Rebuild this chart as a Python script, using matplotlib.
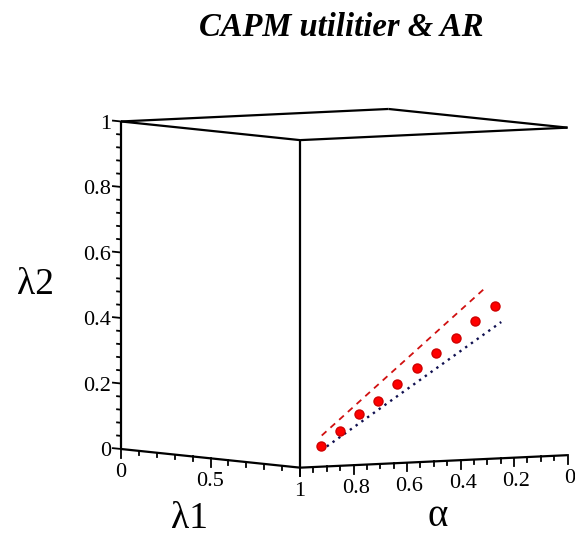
import numpy as np
import matplotlib
matplotlib.use("Agg")
import matplotlib.pyplot as plt
from mpl_toolkits.mplot3d import proj3d

# Estimated (alpha, lambda2) pairs, all lying on the lambda1 = 1 face
alpha = [0.921, 0.850, 0.778, 0.709, 0.638, 0.563, 0.491, 0.416, 0.345, 0.273]
lam2 = [0.062, 0.107, 0.155, 0.193, 0.241, 0.287, 0.330, 0.374, 0.422, 0.465]
lam1 = [1.0] * len(alpha)

# Upper (dashed) and lower (dotted) bands
upper_alpha = [0.919, 0.307]
upper_lam2 = [0.095, 0.523]
lower_alpha = [0.900, 0.248]
lower_lam2 = [0.061, 0.416]
band_lam1 = [1.0, 1.0]

# Axis ticks
lam2_major = [0, 0.2, 0.4, 0.6, 0.8, 1]
lam2_labels = ["0", "0.2", "0.4", "0.6", "0.8", "1"]
lam1_major = [0, 0.5, 1]
lam1_labels = ["0", "0.5", "1"]
alpha_major = [1, 0.8, 0.6, 0.4, 0.2, 0]
alpha_labels = ["1", "0.8", "0.6", "0.4", "0.2", "0"]

W, H = 575, 536
SERIF = ["Liberation Serif", "DejaVu Serif"]

fig = plt.figure(figsize=(W / 100, H / 100), dpi=100)
ax = fig.add_axes([0, 0, 1, 1], projection="3d", proj_type="ortho")
ax.set_box_aspect((1, 1, 1.02))
ax.view_init(elev=4, azim=56.2)
ax.set_xlim(0, 1)
ax.set_ylim(0, 1)
ax.set_zlim(0, 1)
ax.set_axis_off()


def to_pixels(x, y, z):
    """Display pixel position of a 3D point (x = alpha, y = lambda1, z = lambda2)."""
    xs, ys, _ = proj3d.proj_transform(x, y, z, ax.get_proj())
    return ax.transData.transform((xs, ys))


def fit_axes():
    """Scale/shift the 3D axes so the box corners land where wanted."""
    fig.canvas.draw()
    inv = ax.transAxes.inverted()
    q1 = inv.transform(to_pixels(1, 0, 0))   # left bottom corner
    q2 = inv.transform(to_pixels(1, 1, 1))   # front top corner
    t1 = np.array([121.0, H - 449.0])
    t2 = np.array([300.0, H - 140.0])
    s = 0.5 * ((t2[0] - t1[0]) / (q2[0] - q1[0]) + (t2[1] - t1[1]) / (q2[1] - q1[1]))
    l = t1[0] - s * q1[0]
    b = t1[1] - s * q1[1]
    ax.set_position([l / W, b / H, s / W, s / H])
    fig.canvas.draw()


fit_axes()

kw_box = dict(color="black", lw=1.6, solid_capstyle="butt")
# box edges: x = alpha, y = lambda1, z = lambda2
edges = [
    ([1, 1], [0, 0], [0, 1]),   # left vertical
    ([1, 1], [1, 1], [0, 1]),   # front vertical
    ([1, 1], [0, 1], [0, 0]),   # lambda1 axis
    ([1, 0], [1, 1], [0, 0]),   # alpha axis
    ([1, 1], [0, 1], [1, 1]),
    ([1, 0], [1, 1], [1, 1]),
    ([1, 0], [0, 0], [1, 1]),
    ([0, 0], [0, 1], [1, 1]),
]
for xs, ys, zs in edges:
    ax.plot(xs, ys, zs, **kw_box)

# lambda2 ticks on the left vertical edge
for v in np.arange(0, 1.0001, 0.04):
    major = any(abs(v - m) < 1e-6 for m in lam2_major)
    ln = 0.045 if major else 0.022
    ax.plot([1, 1], [0, -ln], [v, v], color="black", lw=1.3)
# lambda1 ticks
for v in np.arange(0, 1.0001, 0.1):
    major = any(abs(v - m) < 1e-6 for m in lam1_major)
    ln = 0.026 if major else 0.014
    ax.plot([1, 1], [v, v], [0, -ln], color="black", lw=1.3)
# alpha ticks
for v in np.arange(0, 1.0001, 0.05):
    major = any(abs(v - m) < 1e-6 for m in alpha_major)
    ln = 0.026 if major else 0.014
    ax.plot([v, v], [1, 1], [0, -ln], color="black", lw=1.3)

# tick labels, placed at the projected tick positions
tfont = dict(family=SERIF, size=16)


def label_at(x, y, z, s, dx=0, dy=0, **kw):
    px, py = to_pixels(x, y, z)
    fig.text((px + dx) / W, (py + dy) / H, s, **tfont, **kw)


for v, s in zip(lam2_major, lam2_labels):
    label_at(1, 0, v, s, dx=-10, dy=-3, ha="right", va="center")
for v, s in zip(lam1_major, lam1_labels):
    label_at(1, v, 0, s, dy=-14, ha="center", va="top")
for v, s in zip(alpha_major, alpha_labels):
    if v == 1:
        continue  # shares the corner label with lambda1
    label_at(v, 1, 0, s, dx=2, dy=-14, ha="center", va="top")

# data
ax.plot(upper_alpha, band_lam1, upper_lam2, color="#d01010", lw=1.3,
        linestyle=(0, (3.5, 3)))
ax.plot(lower_alpha, band_lam1, lower_lam2, color="#101050", lw=1.7,
        linestyle=(0, (1, 2)))
ax.plot(alpha, lam1, lam2, linestyle="none", marker="o", ms=6.5,
        color="#ff0000", mec="#d00000")

# title and axis names
fig.text(341 / W, 1 - 28 / H, "CAPM utilitier & AR", family=SERIF,
         weight="bold", style="italic", size=23.5, ha="center", va="center")
fig.text(190 / W, 1 - 519 / H, "λ1", family=SERIF, size=27,
         ha="center", va="center")
fig.text(438 / W, 1 - 516 / H, "α", family=SERIF, size=28,
         ha="center", va="center")
fig.text(35 / W, 1 - 285 / H, "λ2", family=SERIF, size=27,
         ha="center", va="center")

fig.savefig("out.png", dpi=100)
